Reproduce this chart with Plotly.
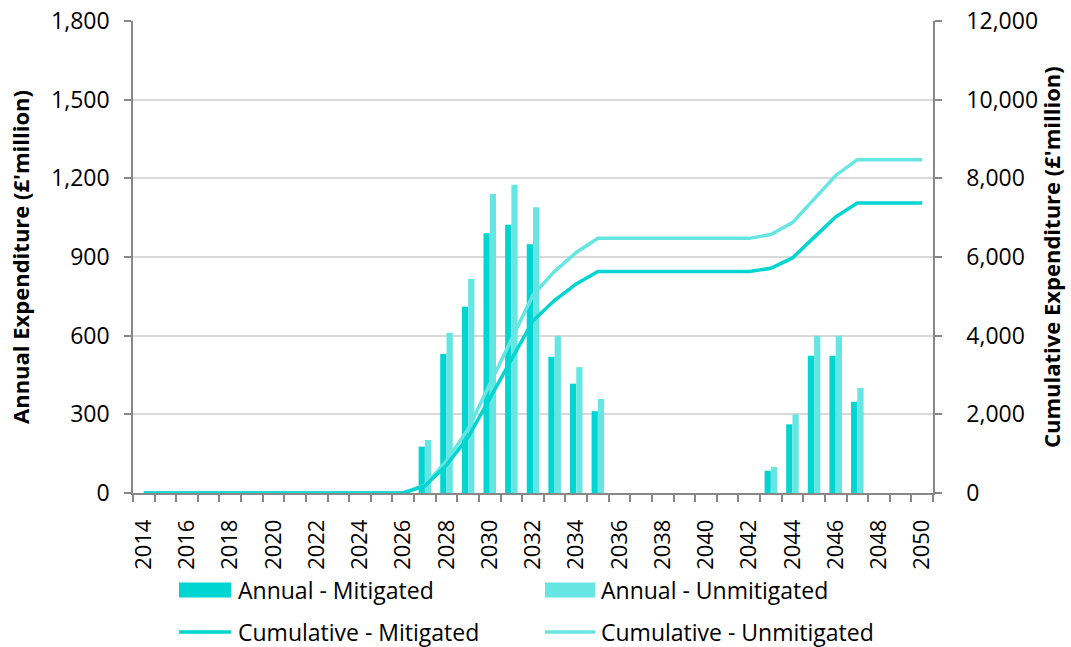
import plotly.graph_objects as go

# Years on the category axis
years = list(range(2014, 2051))

# Annual expenditure (£ million)
annual_mitigated = [0] * 13 + [177, 530, 710, 991, 1023, 949, 520, 417, 312] + [0] * 7 + [85, 262, 523, 523, 348] + [0] * 3
annual_unmitigated = [0] * 13 + [202, 611, 816, 1140, 1176, 1090, 600, 480, 359] + [0] * 7 + [99, 300, 600, 600, 401] + [0] * 3

# Cumulative expenditure (£ million)
cumulative_mitigated = [0] * 13 + [177, 707, 1417, 2408, 3431, 4380, 4900, 5317, 5629] + [5629] * 7 + [5714, 5976, 6499, 7022, 7370] + [7370] * 3
cumulative_unmitigated = [0] * 13 + [202, 813, 1629, 2769, 3945, 5035, 5635, 6115, 6474] + [6474] * 7 + [6573, 6873, 7473, 8073, 8474] + [8474] * 3

# Axis ticks
left_ticks = [0, 300, 600, 900, 1200, 1500, 1800]
right_ticks = [0, 2000, 4000, 6000, 8000, 10000, 12000]
year_labels = list(range(2014, 2051, 2))

DARK = "#00D5D1"
LIGHT = "#66E6E2"
AXIS = "#888888"
GRID = "#D9D9D9"
FONT = "Open Sans"
TICK_SIZE = 23

fig = go.Figure()
fig.add_trace(go.Bar(x=years, y=annual_mitigated, name="Annual - Mitigated",
                     marker=dict(color=DARK, line=dict(width=0)), showlegend=False))
fig.add_trace(go.Bar(x=years, y=annual_unmitigated, name="Annual - Unmitigated",
                     marker=dict(color=LIGHT, line=dict(width=0)), showlegend=False))
fig.add_trace(go.Scatter(x=years, y=cumulative_unmitigated, name="Cumulative - Unmitigated",
                         mode="lines", line=dict(color=LIGHT, width=3.5), yaxis="y2", showlegend=False))
fig.add_trace(go.Scatter(x=years, y=cumulative_mitigated, name="Cumulative - Mitigated",
                         mode="lines", line=dict(color=DARK, width=3.5), yaxis="y2", showlegend=False))

fig.update_layout(
    width=1071, height=647,
    margin=dict(l=133, r=138, t=21, b=154, pad=0),
    paper_bgcolor="white", plot_bgcolor="white",
    font=dict(family=FONT, size=TICK_SIZE, color="black"),
    barmode="group", bargap=0.42, bargroupgap=0,
    xaxis=dict(
        range=[2013.5, 2050.5], tickmode="array", tickvals=year_labels,
        ticktext=[str(y) for y in year_labels], tickangle=-90,
        # invisible major ticks keep the year labels clear of the axis
        ticks="outside", ticklen=16, tickcolor="rgba(0,0,0,0)",
        showline=True, linecolor=AXIS, linewidth=1.5,
        showgrid=False, zeroline=False, automargin=False,
        minor=dict(tick0=2013.5, dtick=1, ticks="outside", ticklen=7,
                   tickcolor=AXIS, tickwidth=1.5, showgrid=False),
        tickfont=dict(size=22),
    ),
    yaxis=dict(
        range=[0, 1800], tickmode="array", tickvals=left_ticks, tickformat=",",
        ticks="outside", ticklen=7, tickcolor=AXIS, tickwidth=1.5,
        showline=True, linecolor=AXIS, linewidth=1.5, ticklabelstandoff=10,
        showgrid=True, gridcolor=GRID, gridwidth=1.5, zeroline=False, automargin=False,
        tickfont=dict(size=TICK_SIZE),
    ),
    yaxis2=dict(
        range=[0, 12000], tickmode="array", tickvals=right_ticks, tickformat=",",
        overlaying="y", side="right",
        ticks="outside", ticklen=7, tickcolor=AXIS, tickwidth=1.5,
        showline=True, linecolor=AXIS, linewidth=1.5, ticklabelstandoff=20,
        showgrid=False, zeroline=False, automargin=False,
        tickfont=dict(size=TICK_SIZE),
    ),
)

# Axis titles
fig.add_annotation(text="<b>Annual Expenditure (£'million)</b>", xref="paper", yref="paper",
                   x=(20 - 133) / 800, y=0.5, textangle=-90, showarrow=False,
                   font=dict(size=22), xanchor="center", yanchor="middle")
fig.add_annotation(text="<b>Cumulative Expenditure (£'million)</b>", xref="paper", yref="paper",
                   x=(1051 - 133) / 800, y=0.5, textangle=-90, showarrow=False,
                   font=dict(size=22), xanchor="center", yanchor="middle")

# Legend drawn below the plot: two columns, bars on top row, lines below
plot_w, plot_h = 800, 472
def px(x):
    return (x - 133) / plot_w
def py(y):
    return (493 - y) / plot_h

legend_items = [
    ("Annual - Mitigated", DARK, "bar", 179, 231, 236, 590),
    ("Annual - Unmitigated", LIGHT, "bar", 545, 595, 599, 590),
    ("Cumulative - Mitigated", DARK, "line", 179, 231, 236, 632),
    ("Cumulative - Unmitigated", LIGHT, "line", 545, 595, 599, 632),
]
for label, color, kind, x0, x1, tx, cy in legend_items:
    if kind == "bar":
        fig.add_shape(type="rect", xref="paper", yref="paper",
                      x0=px(x0), x1=px(x1), y0=py(cy + 7.5), y1=py(cy - 7.5),
                      fillcolor=color, line=dict(width=0))
    else:
        fig.add_shape(type="line", xref="paper", yref="paper",
                      x0=px(x0), x1=px(x1), y0=py(cy), y1=py(cy),
                      line=dict(color=color, width=3.5))
    fig.add_annotation(text=label, xref="paper", yref="paper", x=px(tx), y=py(cy),
                       xanchor="left", yanchor="middle", showarrow=False,
                       font=dict(size=TICK_SIZE))

fig.write_html("out.html")
